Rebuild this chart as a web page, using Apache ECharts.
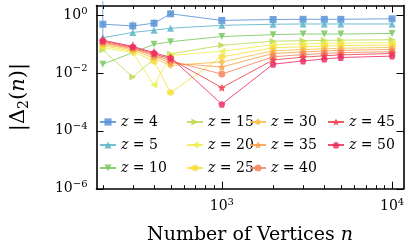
<!DOCTYPE html>
<html><head><meta charset="utf-8">
<script src="https://cdn.jsdelivr.net/npm/echarts@6/dist/echarts.min.js"></script>
<style>html,body{margin:0;padding:0;background:#fff}#c{width:411px;height:250px}</style>
</head><body><div id="c"></div>
<script>
// ---- data ----
const nValues = [200, 300, 400, 500, 1000, 2000, 3000, 4000, 5000, 10000];
const zLabels = ['4', '5', '10', '15', '20', '25', '30', '35', '40', '45', '50'];
const d_z4  = [0.48, 0.42, 0.52, 1.10, 0.65, 0.70, 0.71, 0.71, 0.71, 0.74];
const d_z5  = [0.165, 0.25, 0.30, 0.35, 0.44, 0.48, 0.49, 0.49, 0.49, 0.49];
const d_z10 = [0.020, 0.050, 0.097, 0.12, 0.18, 0.21, 0.22, 0.22, 0.22, 0.23];
const d_z15 = [0.062, 0.0072, 0.030, 0.045, 0.090, 0.125, 0.130, 0.133, 0.135, 0.140];
const d_z20 = [0.075, 0.050, 0.0038, 0.040, 0.056, 0.095, 0.100, 0.105, 0.108, 0.110];
const d_z25 = [0.088, 0.055, 0.025, 0.0021, 0.036, 0.074, 0.080, 0.085, 0.088, 0.092];
const d_z30 = [0.098, 0.062, 0.032, 0.018, 0.024, 0.058, 0.064, 0.068, 0.071, 0.076];
const d_z35 = [0.107, 0.068, 0.038, 0.022, 0.016, 0.047, 0.053, 0.057, 0.060, 0.065];
const d_z40 = [0.115, 0.072, 0.042, 0.026, 0.0091, 0.036, 0.043, 0.047, 0.050, 0.054];
const d_z45 = [0.125, 0.077, 0.046, 0.030, 0.0031, 0.028, 0.035, 0.039, 0.042, 0.047];
const d_z50 = [0.135, 0.082, 0.050, 0.034, 0.00083, 0.020, 0.026, 0.030, 0.034, 0.038];
// error bars [low, high] (null = none drawn)
const err_z4  = [[0.15, 3.0], [0.30, 0.60], [0.38, 0.70], [0.90, 1.30], null, null, null, null, null, null];
const err_z50 = [[0.09, 0.20], [0.055, 0.12], [0.035, 0.07], [0.026, 0.045], null, null, null, null, null, null];
const xMajorTicks = [1000, 10000];
const xMinorTicks = [200, 300, 400, 500, 600, 700, 800, 900, 2000, 3000, 4000, 5000, 6000, 7000, 8000, 9000];
const yMajorTicks = [1e-6, 1e-4, 1e-2, 1];

const seriesValues = [d_z4, d_z5, d_z10, d_z15, d_z20, d_z25, d_z30, d_z35, d_z40, d_z45, d_z50];
const seriesErrors = [err_z4, null, null, null, null, null, null, null, null, null, err_z50];

// ---- styles ----
const colors = ['#5b93d9', '#5ab4c8', '#79c863', '#bedc55', '#eef04e', '#f7df3d', '#f7c04e', '#f7a04a', '#f4865f', '#f0434f', '#ee2f63'];
const star = 'path://M0,-10 L2.9,-4 L9.5,-3.1 L4.7,1.5 L5.9,8.1 L0,5 L-5.9,8.1 L-4.7,1.5 L-9.5,-3.1 L-2.9,-4 Z';
const hexagon = 'path://M0,-10 L8.66,-5 L8.66,5 L0,10 L-8.66,5 L-8.66,-5 Z';
const pentagon = 'path://M0,-10 L9.5,-3.1 L5.9,8.1 L-5.9,8.1 L-9.5,-3.1 Z';
const symbols = ['rect', 'triangle', 'triangle', 'triangle', 'triangle', hexagon, 'diamond', star, 'circle', star, pentagon];
const rotations = [0, 0, 180, -90, 90, 0, 0, 0, 0, 0, 0];
const sizes = [7, 7, 7, 7, 7, 7, 7, 8, 7, 8, 7];

const FONT = 'DejaVu Serif';
const MAJOR_LEN = 7, MINOR_LEN = 3.5;

function supLabel(v) {
  const l = Math.log10(v);
  const e = Math.round(l);
  if (Math.abs(l - e) > 1e-6) return '';
  return '{b|10}{s|' + (e < 0 ? '\u2212' + (-e) : e) + '}';
}
const tickRich = {
  b: { fontFamily: FONT, fontSize: 14, lineHeight: 18, color: '#000' },
  s: { fontFamily: FONT, fontSize: 10, lineHeight: 10, verticalAlign: 'top', color: '#000' }
};

const series = [];
seriesValues.forEach((vals, i) => {
  series.push({
    name: 'z' + zLabels[i],
    type: 'line',
    data: nValues.map((n, k) => [n, vals[k]]),
    symbol: symbols[i],
    symbolRotate: rotations[i],
    symbolSize: sizes[i],
    lineStyle: { width: 1, color: colors[i], opacity: 0.85 },
    itemStyle: { color: colors[i], opacity: 0.85 },
    emphasis: { disabled: true },
    z: 10 + i
  });
  const errs = seriesErrors[i];
  if (errs) {
    const ed = [];
    errs.forEach((e, k) => { if (e) ed.push([nValues[k], e[0], e[1]]); });
    series.push({
      type: 'custom',
      name: 'err' + zLabels[i],
      data: ed,
      z: 9,
      silent: true,
      renderItem: (params, api) => {
        const p1 = api.coord([api.value(0), api.value(1)]);
        const p2 = api.coord([api.value(0), api.value(2)]);
        return { type: 'line', shape: { x1: p1[0], y1: p1[1], x2: p2[0], y2: p2[1] },
                 style: { stroke: colors[i], lineWidth: 1, opacity: 0.8 } };
      }
    });
  }
});

// tick marks on all four spines, placed through the axes' own scales
const xTickData = xMajorTicks.map(v => [v, 1, 1]).concat(xMinorTicks.map(v => [v, 1, 0]));
const yTickData = yMajorTicks.map(v => [1000, v, 1]);
series.push({
  type: 'custom', name: 'xticks', silent: true, z: 50, clip: false,
  data: xTickData,
  renderItem: (params, api) => {
    const x = Math.round(api.coord([api.value(0), api.value(1)])[0]) + 0.5;
    const cs = params.coordSys;
    const L = api.value(2) ? MAJOR_LEN : MINOR_LEN;
    const b = cs.y + cs.height, t = cs.y;
    return { type: 'group', children: [
      { type: 'line', shape: { x1: x, y1: b, x2: x, y2: b - L }, style: { stroke: '#000', lineWidth: 1 } },
      { type: 'line', shape: { x1: x, y1: t, x2: x, y2: t + L }, style: { stroke: '#000', lineWidth: 1 } }
    ] };
  }
});
series.push({
  type: 'custom', name: 'yticks', silent: true, z: 50, clip: false,
  data: yTickData,
  renderItem: (params, api) => {
    const y = Math.round(api.coord([api.value(0), api.value(1)])[1]) + 0.5;
    const cs = params.coordSys;
    const l = cs.x, r = cs.x + cs.width;
    return { type: 'group', children: [
      { type: 'line', shape: { x1: l, y1: y, x2: l + MAJOR_LEN, y2: y }, style: { stroke: '#000', lineWidth: 1 } },
      { type: 'line', shape: { x1: r, y1: y, x2: r - MAJOR_LEN, y2: y }, style: { stroke: '#000', lineWidth: 1 } }
    ] };
  }
});

function xAxisDef(pos, labels) {
  return {
    type: 'log', logBase: 10, min: 183.6, max: 11670, position: pos,
    axisLine: { show: true, onZero: false, lineStyle: { color: '#000', width: 1.6 } },
    axisTick: { show: false },
    axisLabel: labels ? { show: true, customValues: xMajorTicks, margin: 9, formatter: supLabel, rich: tickRich } : { show: false },
    splitLine: { show: false },
    name: labels ? '{t|Number of Vertices }{i|n}' : '',
    nameLocation: 'middle', nameGap: 35,
    nameTextStyle: { rich: {
      t: { fontFamily: FONT, fontSize: 19, lineHeight: 22, color: '#000' },
      i: { fontFamily: FONT, fontSize: 19, lineHeight: 22, fontStyle: 'italic', color: '#000' } } }
  };
}
function yAxisDef(pos, labels) {
  return {
    type: 'log', logBase: 10, min: 1e-6, max: 2.13, position: pos,
    axisLine: { show: true, onZero: false, lineStyle: { color: '#000', width: 1.6 } },
    axisTick: { show: false },
    axisLabel: labels ? { show: true, customValues: yMajorTicks, margin: 9, formatter: supLabel, rich: tickRich } : { show: false },
    splitLine: { show: false },
    name: labels ? '{t|\u007C\u0394}{s|2}{t|(}{i|n}{t|)\u007C}' : '',
    nameLocation: 'middle', nameGap: 65, nameRotate: 90,
    nameTextStyle: { rich: {
      t: { fontFamily: FONT, fontSize: 21, lineHeight: 26, color: '#000' },
      i: { fontFamily: FONT, fontSize: 21, lineHeight: 26, fontStyle: 'italic', color: '#000' },
      s: { fontFamily: FONT, fontSize: 14, lineHeight: 16, verticalAlign: 'bottom', color: '#000' } } }
  };
}

const legendCols = [['z4', 'z5', 'z10'], ['z15', 'z20', 'z25'], ['z30', 'z35', 'z40'], ['z45', 'z50']];
const legendLeft = [99, 186, 249, 327];
const legends = legendCols.map((names, ci) => ({
  orient: 'vertical', left: legendLeft[ci], top: 115,
  itemWidth: 16, itemHeight: 9, itemGap: 9, selectedMode: false,
  data: names, padding: 0,
  formatter: (name) => '{i|z}{t| = ' + name.slice(1) + '}',
  textStyle: { rich: {
    i: { fontFamily: FONT, fontSize: 14, lineHeight: 14, fontStyle: 'italic', color: '#000' },
    t: { fontFamily: FONT, fontSize: 14, lineHeight: 14, color: '#000' } } }
}));

const chart = echarts.init(document.getElementById('c'), null, { renderer: 'canvas' });
chart.setOption({
  animation: false,
  backgroundColor: '#fff',
  grid: { left: 87, right: 7.5, top: 5.5, bottom: 61.3, containLabel: false },
  legend: legends,
  xAxis: [xAxisDef('bottom', true), xAxisDef('top', false)],
  yAxis: [yAxisDef('left', true), yAxisDef('right', false)],
  series: series
});
</script></body></html>
